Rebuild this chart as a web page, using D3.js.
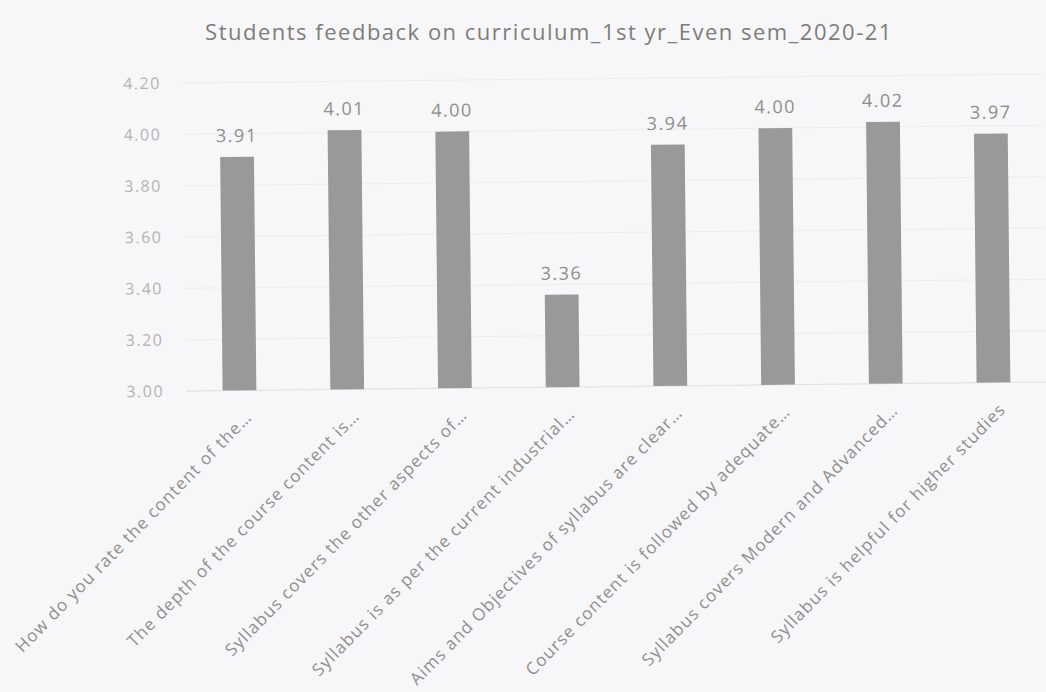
<!DOCTYPE html>
<html>
<head>
<meta charset="utf-8">
<script src="https://cdn.jsdelivr.net/npm/d3@7"></script>
<style>
	html, body { margin: 0; padding: 0; background: #f7f6f8; }
	svg { display: block; font-family: 'Open Sans', sans-serif; }
</style>
</head>
<body>
<div id="chart"></div>
<script>
const chartTitle = 'Students feedback on curriculum_1st yr_Even sem_2020-21';
const questions = [
	'How do you rate the content of the…',
	'The depth of the course content is…',
	'Syllabus covers the other aspects of…',
	'Syllabus is as per the current industrial…',
	'Aims and Objectives of syllabus are clear…',
	'Course content is followed by adequate…',
	'Syllabus covers Modern and Advanced…',
	'Syllabus is helpful for higher studies'
];
const scores = [3.91, 4.01, 4.00, 3.36, 3.94, 4.00, 4.02, 3.97];
const yTicks = [3.00, 3.20, 3.40, 3.60, 3.80, 4.00, 4.20];

const width = 1046, height = 692;
const plot = { left: 186, right: 1047, top: 83, bottom: 391 };

const svg = d3.select('#chart').append('svg')
	.attr('width', width).attr('height', height);

svg.append('rect').attr('width', width).attr('height', height).attr('fill', '#f7f6f8');

svg.append('text')
	.attr('x', 549).attr('y', 40)
	.attr('text-anchor', 'middle')
	.attr('font-size', 22)
	.attr('letter-spacing', 1.5)
	.attr('fill', '#7d7d7d')
	.text(chartTitle);

// the scan is a little crooked, the whole plot leans up to the right
const g = svg.append('g')
	.attr('transform', `rotate(-0.6, ${plot.left}, ${plot.bottom})`);

const x = d3.scaleBand()
	.domain(questions)
	.range([plot.left, plot.right])
	.paddingInner(0.6866)
	.paddingOuter(0.34);

const y = d3.scaleLinear()
	.domain([3.0, 4.2])
	.range([plot.bottom, plot.top]);

// gridlines
g.append('g')
	.selectAll('line')
	.data(yTicks)
	.join('line')
	.attr('x1', plot.left).attr('x2', plot.right)
	.attr('y1', d => y(d)).attr('y2', d => y(d))
	.attr('stroke', '#ededed').attr('stroke-width', 1);

const yAxis = d3.axisLeft(y).tickValues(yTicks).tickFormat(d3.format('.2f')).tickSize(0).tickPadding(22);
g.append('g')
	.attr('transform', `translate(${plot.left},0)`)
	.call(yAxis)
	.call(ax => ax.select('.domain').remove())
	.call(ax => ax.selectAll('text')
		.attr('font-size', 16)
		.attr('letter-spacing', 1.5)
		.attr('fill', '#b4b4b4')
		.attr('font-family', 'Open Sans'));

g.append('line')
	.attr('x1', plot.left).attr('x2', plot.right)
	.attr('y1', plot.bottom).attr('y2', plot.bottom)
	.attr('stroke', '#e2e2e2');

g.append('g')
	.selectAll('rect')
	.data(scores)
	.join('rect')
	.attr('x', (d, i) => x(questions[i]))
	.attr('y', d => y(d))
	.attr('width', x.bandwidth())
	.attr('height', d => y(3.0) - y(d))
	.attr('fill', '#999999');

g.append('g')
	.selectAll('text')
	.data(scores)
	.join('text')
	.attr('x', (d, i) => x(questions[i]) + x.bandwidth() / 2)
	.attr('y', d => y(d) - 15)
	.attr('text-anchor', 'middle')
	.attr('font-size', 18)
	.attr('letter-spacing', 1.5)
	.attr('fill', '#8e8e8e')
	.text(d => d3.format('.2f')(d));

const xAxis = d3.axisBottom(x).tickSize(0).tickPadding(0);
g.append('g')
	.attr('transform', `translate(0,${plot.bottom})`)
	.call(xAxis)
	.call(ax => ax.select('.domain').remove())
	.call(ax => ax.selectAll('text')
		.attr('font-size', 17)
		.attr('letter-spacing', 1.1)
		.attr('fill', '#8f8f8f')
		.attr('font-family', 'Open Sans')
		.attr('text-anchor', 'end')
		.attr('dy', null)
		.attr('y', 0)
		.attr('transform', 'translate(13,28) rotate(-45)'));
</script>
</body>
</html>
